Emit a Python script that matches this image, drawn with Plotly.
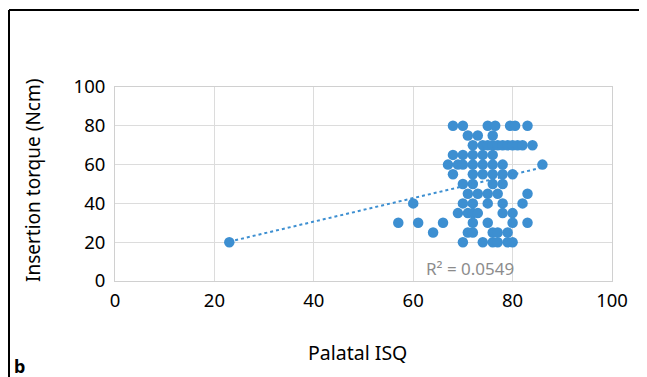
import plotly.graph_objects as go

# Data
isq = [23, 60, 57, 61, 64, 66, 86,
       68, 70, 75, 76.5, 79.5, 80.5, 83,
       71, 73, 76,
       72, 74, 75, 76, 77, 78, 79, 80, 81, 82, 84,
       68, 70, 72, 74, 76,
       67, 69, 70, 72, 74, 76, 78,
       68, 72, 74, 76, 78, 80,
       70, 72, 76, 78,
       71, 73, 75, 77, 83,
       70, 72, 75, 78, 82,
       69, 71, 72, 73, 78, 80,
       72, 75, 80, 83,
       71, 72, 76, 77, 79,
       70, 74, 76, 77, 79, 80]
torque = [20, 40, 30, 30, 25, 30, 60,
          80, 80, 80, 80, 80, 80, 80,
          75, 75, 75,
          70, 70, 70, 70, 70, 70, 70, 70, 70, 70, 70,
          65, 65, 65, 65, 65,
          60, 60, 60, 60, 60, 60, 60,
          55, 55, 55, 55, 55, 55,
          50, 50, 50, 50,
          45, 45, 45, 45, 45,
          40, 40, 40, 40, 40,
          35, 35, 35, 35, 35, 35,
          30, 30, 30, 30,
          25, 25, 25, 25, 25,
          20, 20, 20, 20, 20, 20]
trend_x = [23, 86]
trend_y = [20.3, 58.5]
x_ticks = [0, 20, 40, 60, 80, 100]
y_ticks = [0, 20, 40, 60, 80, 100]
r2_label = "R² = 0.0549"

blue = "#3d8fd1"
font = "Noto Sans"

# page body has an 8px offset; positions below are in window pixels
OFF = 8
W, H = 647, 377
win_left, win_right, win_top, win_bottom = 115, 612, 87, 281
L = win_left - OFF
T = win_top - OFF
R = W - (win_right - OFF)
B = H - (win_bottom - OFF)
pw, ph = W - L - R, H - T - B

def px(x):
    return (x - OFF - L) / pw

def py(y):
    return (H - B - (y - OFF)) / ph

fig = go.Figure()
fig.add_trace(go.Scatter(x=isq, y=torque, mode="markers",
                         marker=dict(color=blue, size=10.5), hoverinfo="skip"))
fig.add_trace(go.Scatter(x=trend_x, y=trend_y, mode="lines",
                         line=dict(color=blue, width=2, dash="dot"), hoverinfo="skip"))

fig.update_layout(
    width=W, height=H,
    margin=dict(l=L, r=R, t=T, b=B),
    paper_bgcolor="white", plot_bgcolor="white",
    showlegend=False,
    font=dict(family=font, color="black"),
    xaxis=dict(range=[0, 100], tickvals=x_ticks, showgrid=True, gridcolor="#dcdcdc",
               gridwidth=1, zeroline=False, showline=True, linecolor="#d0d0d0", mirror=True,
               tickfont=dict(size=18.5), ticks="", ticklabelstandoff=3),
    yaxis=dict(range=[0, 100], tickvals=y_ticks, showgrid=True, gridcolor="#dcdcdc",
               gridwidth=1, zeroline=False, showline=True, linecolor="#d0d0d0", mirror=True,
               tickfont=dict(size=18.5), ticks="", ticklabelstandoff=5),
    shapes=[
        dict(type="line", xref="paper", yref="paper", x0=px(9), x1=px(W + 20),
             y0=py(10), y1=py(10), line=dict(color="black", width=2)),
        dict(type="line", xref="paper", yref="paper", x0=px(9), x1=px(9),
             y0=py(10), y1=py(H + 20), line=dict(color="black", width=2)),
    ],
    annotations=[
        dict(text="Insertion torque (Ncm)", xref="paper", yref="paper", x=px(33), y=py(181),
             textangle=-90, showarrow=False, font=dict(size=19), xanchor="center", yanchor="middle"),
        dict(text="Palatal ISQ", xref="paper", yref="paper", x=px(357), y=py(352),
             showarrow=False, font=dict(size=19.5), xanchor="center", yanchor="middle"),
        dict(text=r2_label, xref="paper", yref="paper", x=px(470), y=py(268),
             showarrow=False, font=dict(size=17, color="#8c8c8c"), xanchor="center", yanchor="middle"),
        dict(text="<b>b</b>", xref="paper", yref="paper", x=px(12), y=py(366),
             showarrow=False, font=dict(size=18), xanchor="left", yanchor="middle"),
    ],
)

fig.write_html("out.html")
